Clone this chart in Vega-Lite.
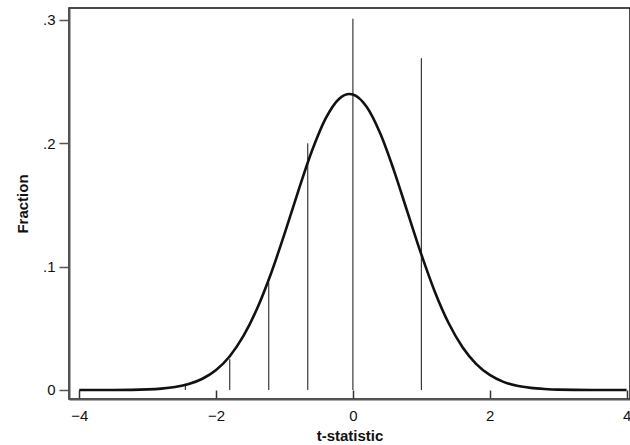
{
  "$schema": "https://vega.github.io/schema/vega-lite/v6.json",
  "width": 561,
  "height": 391,
  "autosize": "none",
  "padding": {"left": 69, "top": 8, "right": 0, "bottom": 46},
  "background": "white",
  "config": {
    "view": {"stroke": "#111", "strokeWidth": 1.5},
    "font": "Liberation Sans"
  },
  "datasets": {
    "curve": [
      {"t": -4.0, "f": 0.0},
      {"t": -3.5, "f": 0.00005},
      {"t": -3.0, "f": 0.0005},
      {"t": -2.8, "f": 0.0011},
      {"t": -2.6, "f": 0.0024},
      {"t": -2.4, "f": 0.0048},
      {"t": -2.2, "f": 0.0091},
      {"t": -2.0, "f": 0.0162},
      {"t": -1.8, "f": 0.0274},
      {"t": -1.6, "f": 0.0438},
      {"t": -1.4, "f": 0.066},
      {"t": -1.2, "f": 0.094},
      {"t": -1.0, "f": 0.1266},
      {"t": -0.8, "f": 0.1611},
      {"t": -0.6, "f": 0.1937},
      {"t": -0.4, "f": 0.22},
      {"t": -0.2, "f": 0.2362},
      {"t": -0.05, "f": 0.24},
      {"t": 0.0, "f": 0.2396},
      {"t": 0.2, "f": 0.2296},
      {"t": 0.4, "f": 0.2079},
      {"t": 0.6, "f": 0.1779},
      {"t": 0.8, "f": 0.1438},
      {"t": 1.0, "f": 0.1099},
      {"t": 1.2, "f": 0.0793},
      {"t": 1.4, "f": 0.0541},
      {"t": 1.6, "f": 0.0349},
      {"t": 1.8, "f": 0.0212},
      {"t": 2.0, "f": 0.0122},
      {"t": 2.2, "f": 0.0066},
      {"t": 2.4, "f": 0.0034},
      {"t": 2.6, "f": 0.0017},
      {"t": 2.8, "f": 0.0008},
      {"t": 3.0, "f": 0.0003},
      {"t": 3.5, "f": 0.00002},
      {"t": 4.0, "f": 0.0}
    ],
    "spikes": [
      {"t": -2.45, "f": 0.005},
      {"t": -1.8, "f": 0.025},
      {"t": -1.23, "f": 0.087},
      {"t": -0.66, "f": 0.2},
      {"t": 0.0, "f": 0.301},
      {"t": 1.0, "f": 0.269}
    ]
  },
  "layer": [
    {
      "data": {"name": "spikes"},
      "mark": {"type": "rule", "color": "#111", "strokeWidth": 1},
      "encoding": {
        "x": {"field": "t", "type": "quantitative",
          "scale": {"domain": [-4.15, 4.05], "nice": false, "zero": false},
          "axis": {
            "values": [-4, -2, 0, 2, 4],
            "labelExpr": "datum.value < 0 ? '\u2212' + abs(datum.value) : '' + datum.value",
            "title": "t-statistic",
            "titleFontWeight": "bold",
            "titleFontSize": 15,
            "titleColor": "#111",
            "titlePadding": 5,
            "labelFontSize": 15,
            "labelColor": "#111",
            "labelFontWeight": "normal",
            "labelPadding": 18,
            "tickSize": -9,
            "tickColor": "#333",
            "tickWidth": 1.5,
            "domainColor": "#555",
            "domainWidth": 2,
            "grid": false,
            "labelFlush": false,
            "labelOverlap": false
          }
        },
        "y": {"field": "f", "type": "quantitative",
          "scale": {"domain": [-0.0073, 0.3097], "nice": false, "zero": false},
          "axis": {
            "values": [0, 0.1, 0.2, 0.3],
            "labelExpr": "datum.value == 0 ? '0' : replace(format(datum.value, '.1f'), '0.', '.')",
            "title": "Fraction",
            "titleFontWeight": "bold",
            "titleFontSize": 15,
            "titleColor": "#111",
            "titlePadding": 12,
            "labelFontSize": 15,
            "labelColor": "#111",
            "labelPadding": 4,
            "tickSize": 10,
            "tickColor": "#555",
            "tickWidth": 1.5,
            "domainColor": "#555",
            "domainWidth": 2,
            "grid": false,
            "labelFlush": false
          }
        },
        "y2": {"datum": 0}
      }
    },
    {
      "data": {"name": "curve"},
      "mark": {"type": "line", "color": "#111", "strokeWidth": 2.6, "interpolate": "monotone"},
      "encoding": {
        "x": {"field": "t", "type": "quantitative"},
        "y": {"field": "f", "type": "quantitative"}
      }
    }
  ]
}
